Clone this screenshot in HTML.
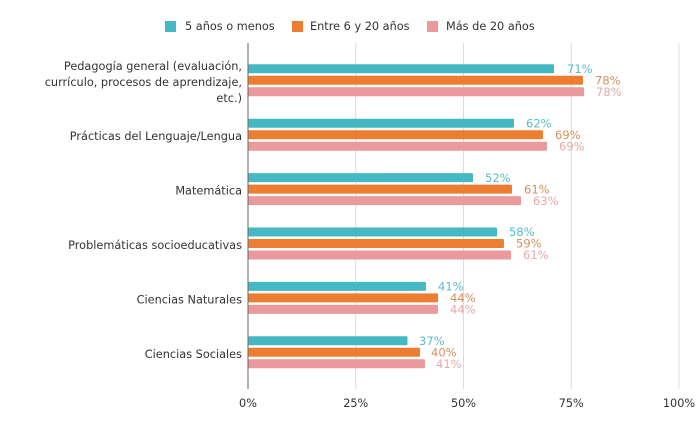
<!DOCTYPE html>
<html><head><meta charset="utf-8"><style>
html,body{margin:0;padding:0;background:#fff;}
svg{display:block;font-family:"DejaVu Sans","Liberation Sans",sans-serif;}
</style></head><body>
<svg width="700" height="424" viewBox="0 0 700 424" xmlns="http://www.w3.org/2000/svg">
<rect width="700" height="424" fill="#fff"/>
<!-- legend -->
<g font-size="11.3" fill="#333">
<rect x="165" y="21" width="11" height="11" fill="#44b9c4"/>
<text x="185" y="30">5 años o menos</text>
<rect x="292" y="21" width="11" height="11" fill="#ed7d31"/>
<text x="310" y="30">Entre 6 y 20 años</text>
<rect x="427" y="21" width="11" height="11" fill="#ea9a9c"/>
<text x="446" y="30">Más de 20 años</text>
</g>
<!-- grid -->
<g stroke="#dcdcdc" stroke-width="1">
<line x1="355.75" y1="43" x2="355.75" y2="389"/>
<line x1="463.5" y1="43" x2="463.5" y2="389"/>
<line x1="571.25" y1="43" x2="571.25" y2="389"/>
<line x1="679" y1="43" x2="679" y2="389"/>
</g>
<!-- bars -->
<g>
<rect x="248" y="64.3" width="306" height="9" fill="#44b9c4" rx="1"/>
<rect x="248" y="75.8" width="335" height="9" fill="#ed7d31" rx="1"/>
<rect x="248" y="87.3" width="336" height="9" fill="#ea9a9c" rx="1"/>

<rect x="248" y="118.7" width="266" height="9" fill="#44b9c4" rx="1"/>
<rect x="248" y="130.2" width="295" height="9" fill="#ed7d31" rx="1"/>
<rect x="248" y="141.7" width="299" height="9" fill="#ea9a9c" rx="1"/>

<rect x="248" y="173.1" width="225" height="9" fill="#44b9c4" rx="1"/>
<rect x="248" y="184.6" width="264" height="9" fill="#ed7d31" rx="1"/>
<rect x="248" y="196.1" width="273" height="9" fill="#ea9a9c" rx="1"/>

<rect x="248" y="227.5" width="249" height="9" fill="#44b9c4" rx="1"/>
<rect x="248" y="239" width="256" height="9" fill="#ed7d31" rx="1"/>
<rect x="248" y="250.5" width="263" height="9" fill="#ea9a9c" rx="1"/>

<rect x="248" y="281.9" width="178" height="9" fill="#44b9c4" rx="1"/>
<rect x="248" y="293.4" width="190" height="9" fill="#ed7d31" rx="1"/>
<rect x="248" y="304.9" width="190" height="9" fill="#ea9a9c" rx="1"/>

<rect x="248" y="336.3" width="159.5" height="9" fill="#44b9c4" rx="1"/>
<rect x="248" y="347.8" width="172" height="9" fill="#ed7d31" rx="1"/>
<rect x="248" y="359.3" width="177" height="9" fill="#ea9a9c" rx="1"/>
</g>
<!-- value labels -->
<g font-size="11.5">
<text x="567" y="73" fill="#5bbdc7">71%</text>
<text x="595" y="84.5" fill="#d68f5c">78%</text>
<text x="596" y="96" fill="#e6a9a9">78%</text>

<text x="526" y="127.4" fill="#5bbdc7">62%</text>
<text x="555" y="138.9" fill="#d68f5c">69%</text>
<text x="559" y="150.4" fill="#e6a9a9">69%</text>

<text x="485" y="181.8" fill="#5bbdc7">52%</text>
<text x="524" y="193.3" fill="#d68f5c">61%</text>
<text x="533" y="204.8" fill="#e6a9a9">63%</text>

<text x="509" y="236.2" fill="#5bbdc7">58%</text>
<text x="516" y="247.7" fill="#d68f5c">59%</text>
<text x="523" y="259.2" fill="#e6a9a9">61%</text>

<text x="438" y="290.6" fill="#5bbdc7">41%</text>
<text x="450" y="302.1" fill="#d68f5c">44%</text>
<text x="450" y="313.6" fill="#e6a9a9">44%</text>

<text x="419" y="345" fill="#5bbdc7">37%</text>
<text x="431" y="356.5" fill="#d68f5c">40%</text>
<text x="436" y="368" fill="#e6a9a9">41%</text>
</g>
<!-- axis -->
<line x1="248" y1="43" x2="248" y2="389" stroke="#666" stroke-width="1"/>
<!-- category labels -->
<g font-size="11.3" fill="#333" text-anchor="end">
<text x="242" y="70">Pedagogía general (evaluación,</text>
<text x="242" y="86">currículo, procesos de aprendizaje,</text>
<text x="242" y="102">etc.)</text>
<text x="242" y="140">Prácticas del Lenguaje/Lengua</text>
<text x="242" y="194.5">Matemática</text>
<text x="242" y="249">Problemáticas socioeducativas</text>
<text x="242" y="303.5">Ciencias Naturales</text>
<text x="242" y="358">Ciencias Sociales</text>
</g>
<!-- ticks -->
<g font-size="11.3" fill="#333" text-anchor="middle">
<text x="248" y="407">0%</text>
<text x="355.75" y="407">25%</text>
<text x="463.5" y="407">50%</text>
<text x="571.25" y="407">75%</text>
<text x="679" y="407">100%</text>
</g>
</svg>
</body></html>
